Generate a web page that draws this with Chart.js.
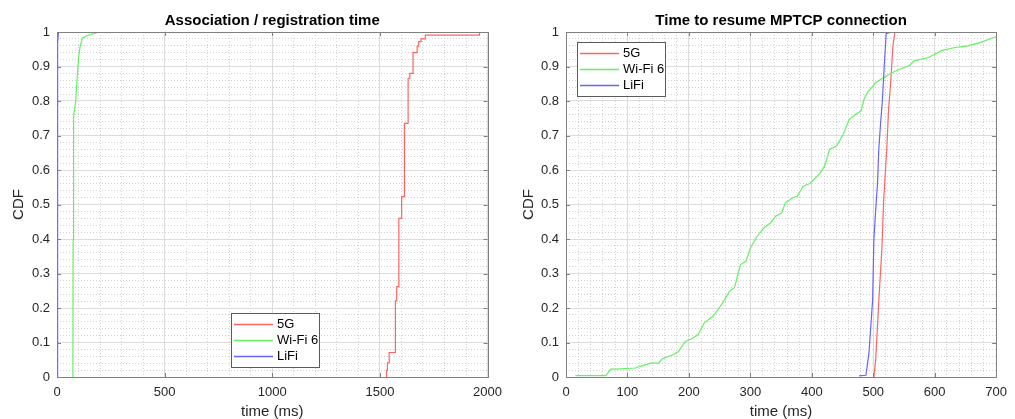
<!DOCTYPE html>
<html>
<head>
<meta charset="utf-8">
<script src="https://cdn.jsdelivr.net/npm/chart.js@4"></script>
<style>
  html, body { margin: 0; padding: 0; background: #fff; }
  #wrap { position: relative; width: 1015px; height: 419px; }
  canvas { position: absolute; top: 0; }
  #assoc { left: 0; }
  #resume { left: 510px; }
</style>
</head>
<body>
<div id="wrap">
  <canvas id="assoc" width="510" height="419"></canvas>
  <canvas id="resume" width="505" height="419"></canvas>
</div>
<script>
const FONT = '"Liberation Sans", Arial, Helvetica, sans-serif';
const TEXT = "#262626";

const SERIES = ["5G", "Wi-Fi 6", "LiFi"];
const SERIES_COLORS = ["#ff6464", "#64f064", "#6464ff"];

const CDF_TICKS = [0, 0.1, 0.2, 0.3, 0.4, 0.5, 0.6, 0.7, 0.8, 0.9, 1];
const CDF_TICK_LABELS = ["0", "0.1", "0.2", "0.3", "0.4", "0.5", "0.6", "0.7", "0.8", "0.9", "1"];
const ASSOC_TICKS = [0, 500, 1000, 1500, 2000];
const ASSOC_TICK_LABELS = ["0", "500", "1000", "1500", "2000"];
const RESUME_TICKS = [0, 100, 200, 300, 400, 500, 600, 700];
const RESUME_TICK_LABELS = ["0", "100", "200", "300", "400", "500", "600", "700"];

// association / registration time (ms), CDF steps
const assoc5gTime = [1531, 1531, 1535, 1543, 1572, 1578, 1588, 1601, 1614, 1631, 1639, 1654, 1673, 1680, 1691, 1711, 1963];
const assoc5gCdf  = [0, 0.02, 0.041, 0.071, 0.221, 0.262, 0.46, 0.523, 0.735, 0.866, 0.88, 0.94, 0.959, 0.972, 0.98, 0.991, 1];
const assocWifiTime = [74, 75, 77, 80, 87, 94, 100, 108, 118, 140, 170, 197];
const assocWifiCdf  = [0, 0.4, 0.75, 0.77, 0.8, 0.87, 0.925, 0.96, 0.982, 0.99, 0.995, 1];
const assocLifiTime = [2, 2, 3, 4, 7];
const assocLifiCdf  = [0, 0.4, 0.8, 0.97, 1];

// time to resume MPTCP connection (ms)
const resume5gTime = [501, 504, 509, 514, 517, 522, 525, 528, 532, 535, 536];
const resume5gCdf  = [0, 0.05, 0.22, 0.37, 0.515, 0.66, 0.78, 0.844, 0.96, 0.997, 1];
const resumeWifiTime = [15, 65, 73, 81, 113, 121, 137, 151, 156, 175, 183, 194, 204, 215, 225, 239, 247, 255, 266, 274,
  279, 284, 293, 300, 311, 322, 333, 341, 351, 357, 368, 376, 386, 397, 413, 421, 429, 440, 451, 461,
  472, 480, 485, 491, 504, 517, 536, 558, 568, 590, 611, 633, 654, 675, 700];
const resumeWifiCdf  = [0.004, 0.004, 0.023, 0.023, 0.026, 0.031, 0.04, 0.04, 0.052, 0.065, 0.074, 0.103, 0.11, 0.123, 0.157, 0.176, 0.195, 0.215, 0.249, 0.258,
  0.292, 0.326, 0.336, 0.374, 0.408, 0.432, 0.447, 0.466, 0.476, 0.505, 0.519, 0.524, 0.553, 0.561, 0.59, 0.611, 0.66, 0.669, 0.703, 0.747,
  0.762, 0.771, 0.805, 0.825, 0.854, 0.868, 0.887, 0.902, 0.917, 0.926, 0.946, 0.955, 0.96, 0.97, 0.987];
const resumeLifiTime = [477, 488, 493, 499, 501, 504, 507, 509, 512, 515, 517, 521, 526, 531];
const resumeLifiCdf  = [0.003, 0.005, 0.069, 0.224, 0.398, 0.485, 0.563, 0.66, 0.737, 0.805, 0.873, 0.995, 0.998, 1];

function isMajor(v, major) {
  const r = v / major;
  return Math.abs(r - Math.round(r)) < 1e-6;
}

function labelFor(v, ticks, labels) {
  const i = ticks.findIndex(t => Math.abs(t - v) < 1e-6);
  return i >= 0 ? labels[i] : "";
}

// grid: solid major lines, dotted minor lines (MATLAB style)
function gridOpts(major) {
  return {
    drawTicks: false,
    lineWidth: 1,
    color: (ctx) => (ctx.tick && !isMajor(ctx.tick.value, major)) ? "#d2d2d2" : "#dcdcdc"
  };
}
function borderOpts(major) {
  return {
    display: false,
    dash: (ctx) => (ctx.tick && !isMajor(ctx.tick.value, major)) ? [1, 2] : []
  };
}

// axes box, inward tick marks and legend box
const matlabFrame = {
  id: "matlabFrame",
  afterDatasetsDraw(chart, args, opts) {
    const { ctx, chartArea: a, scales: { x, y } } = chart;
    ctx.save();
    ctx.setLineDash([]);
    ctx.strokeStyle = "#808080";
    ctx.lineWidth = 1;
    ctx.beginPath();
    for (const v of opts.xTicks) {
      const px = Math.round(x.getPixelForValue(v)) + 0.5;
      ctx.moveTo(px, a.bottom); ctx.lineTo(px, a.bottom - 4);
      ctx.moveTo(px, a.top); ctx.lineTo(px, a.top + 4);
    }
    for (const v of CDF_TICKS) {
      const py = Math.round(y.getPixelForValue(v)) + 0.5;
      ctx.moveTo(a.left, py); ctx.lineTo(a.left + 4, py);
      ctx.moveTo(a.right, py); ctx.lineTo(a.right - 4, py);
    }
    ctx.stroke();
    ctx.strokeRect(Math.round(a.left) + 0.5, Math.round(a.top) + 0.5, Math.round(a.width), Math.round(a.height));
    ctx.restore();
  },
  afterDraw(chart, args, opts) {
    const { ctx, chartArea: a } = chart;
    const lx = Math.round(a.left + opts.legendAt.dx);
    const ly = Math.round(a.top + opts.legendAt.dy);
    ctx.save();
    ctx.setLineDash([]);
    ctx.fillStyle = "#fff";
    ctx.fillRect(lx, ly, 88, 54);
    ctx.strokeStyle = "#5a5a5a";
    ctx.lineWidth = 1;
    ctx.strokeRect(lx + 0.5, ly + 0.5, 88, 54);
    ctx.font = "13px " + FONT;
    ctx.textBaseline = "middle";
    SERIES.forEach((name, i) => {
      const ry = ly + 11.5 + i * 16;
      ctx.beginPath();
      ctx.strokeStyle = SERIES_COLORS[i];
      ctx.lineWidth = 1.4;
      ctx.moveTo(lx + 3, ry);
      ctx.lineTo(lx + 42, ry);
      ctx.stroke();
      ctx.fillStyle = "#000";
      ctx.fillText(name, lx + 46, ry);
    });
    ctx.restore();
  }
};

function cdfChart(canvas, cfg) {
  return new Chart(canvas, {
    type: "line",
    data: {
      datasets: cfg.series.map((s, i) => ({
        label: SERIES[i],
        data: s.time.map((t, j) => ({ x: t, y: s.cdf[j] })),
        borderColor: SERIES_COLORS[i],
        borderWidth: 1.2,
        pointRadius: 0,
        stepped: s.stepped || false,
        tension: 0,
        order: SERIES.length - i
      }))
    },
    options: {
      responsive: false,
      animation: false,
      events: [],
      layout: { padding: { top: 0, right: cfg.padRight, bottom: 0, left: 0 } },
      plugins: {
        legend: { display: false },
        tooltip: { enabled: false },
        title: {
          display: true,
          text: cfg.title,
          fullSize: false,
          color: "#000",
          font: { size: 15, weight: "bold", family: FONT },
          padding: { top: 11.5, bottom: 2.5 }
        },
        matlabFrame: { xTicks: cfg.xTicks, legendAt: cfg.legendAt }
      },
      scales: {
        x: {
          type: "linear",
          min: 0,
          max: cfg.xMax,
          afterFit: (s) => { s.height = 42; },
          ticks: {
            stepSize: cfg.xMinor,
            autoSkip: false,
            maxRotation: 0,
            padding: 8,
            color: TEXT,
            font: { size: 13, family: FONT },
            callback: (v) => labelFor(v, cfg.xTicks, cfg.xTickLabels)
          },
          grid: gridOpts(cfg.xTicks[1]),
          border: borderOpts(cfg.xTicks[1]),
          title: { display: true, text: "time (ms)", color: TEXT, font: { size: 15, family: FONT }, padding: { top: 0, bottom: -2 } }
        },
        y: {
          type: "linear",
          min: 0,
          max: 1,
          afterFit: (s) => { s.width = cfg.yWidth; },
          ticks: {
            stepSize: 0.02,
            autoSkip: false,
            padding: 7,
            color: TEXT,
            font: { size: 13, family: FONT },
            callback: (v) => labelFor(v, CDF_TICKS, CDF_TICK_LABELS)
          },
          grid: gridOpts(0.1),
          border: borderOpts(0.1),
          title: { display: true, text: "CDF", color: TEXT, font: { size: 15, family: FONT }, padding: { top: 10, bottom: 0 } }
        }
      }
    },
    plugins: [matlabFrame]
  });
}

cdfChart(document.getElementById("assoc"), {
  title: "Association / registration time",
  series: [
    { time: assoc5gTime, cdf: assoc5gCdf, stepped: true },
    { time: assocWifiTime, cdf: assocWifiCdf },
    { time: assocLifiTime, cdf: assocLifiCdf }
  ],
  xMax: 2000,
  xMinor: 100,
  xTicks: ASSOC_TICKS,
  xTickLabels: ASSOC_TICK_LABELS,
  yWidth: 57,
  padRight: 17,
  legendAt: { dx: 174, dy: 281 }
});

cdfChart(document.getElementById("resume"), {
  title: "Time to resume MPTCP connection",
  series: [
    { time: resume5gTime, cdf: resume5gCdf },
    { time: resumeWifiTime, cdf: resumeWifiCdf },
    { time: resumeLifiTime, cdf: resumeLifiCdf }
  ],
  xMax: 700,
  xMinor: 20,
  xTicks: RESUME_TICKS,
  xTickLabels: RESUME_TICK_LABELS,
  yWidth: 56,
  padRight: 13,
  legendAt: { dx: 11, dy: 10 }
});
</script>
</body>
</html>
